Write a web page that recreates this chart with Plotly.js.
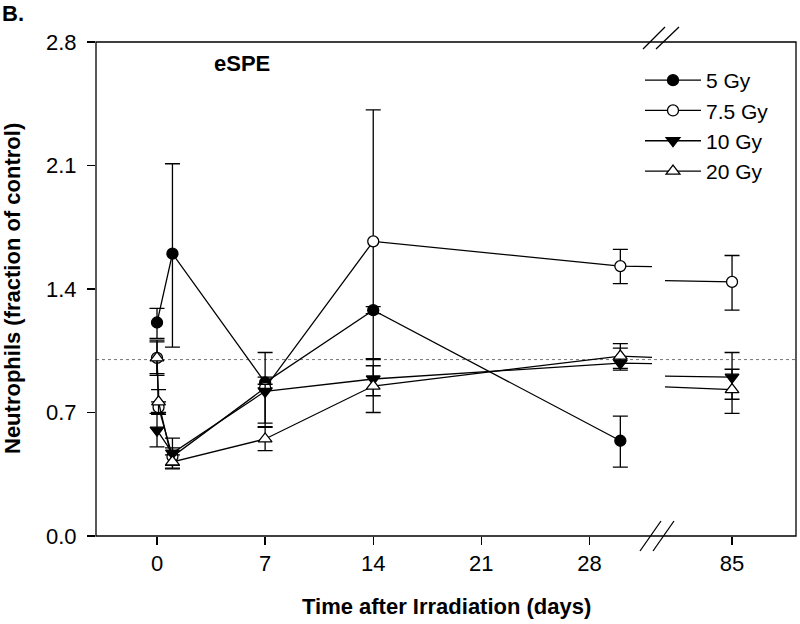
<!DOCTYPE html>
<html>
<head>
<meta charset="utf-8">
<script src="https://cdn.plot.ly/plotly-3.0.1.min.js"></script>
<style>html,body{margin:0;padding:0;background:#fff;}</style>
</head>
<body>
<div id="chart" style="width:800px;height:624px;"></div>
<script>
// ---- data ----
const seriesNames = ['5 Gy', '7.5 Gy', '10 Gy', '20 Gy'];

const days5   = [0, 1, 7, 14, 30];
const vals5   = [1.21, 1.60, 0.87, 1.28, 0.54];
const errUp5  = [0.08, 0.51, 0.03, 0.02, 0.14];
const errDn5  = [0.09, 0.53, 0.03, 0.02, 0.15];

const days75  = [0, 0.1, 1, 7, 14, 30, 85];
const vals75  = [1.01, 0.73, 0.45, 0.84, 1.67, 1.53, 1.44];
const errUp75 = [0.10, 0.03, 0.05, 0.20, 0.745, 0.095, 0.15];
const errDn75 = [0.10, 0.03, 0.05, 0.20, 0.665, 0.10, 0.16];

const days10  = [0, 1, 7, 14, 30, 85];
const vals10  = [0.60, 0.47, 0.82, 0.89, 0.98, 0.90];
const errUp10 = [0.095, 0.085, 0.04, 0.075, 0.085, 0.14];
const errDn10 = [0.095, 0.085, 0.20, 0.095, 0.04, 0.125];

const days20  = [0, 0.1, 1, 7, 14, 30, 85];
const vals20  = [1.01, 0.76, 0.42, 0.55, 0.85, 1.02, 0.83];
const errUp20 = [0.09, 0.07, 0.04, 0.066, 0.15, 0.07, 0.115];
const errDn20 = [0.09, 0.07, 0.04, 0.066, 0.15, 0.07, 0.135];

const xTickValsLeft  = [0, 7, 14, 21, 28];
const xTickValsRight = [85];
const yTickVals = [0, 0.7, 1.4, 2.1, 2.8];
const refLevel = 1.0;

// ---- styling ----
const FONT = 'Liberation Sans, Arial, Helvetica, sans-serif';
const LW = 1.3;
const styles = [
  {symbol:'circle', color:'black', size:11},
  {symbol:'circle', color:'white', size:11},
  {symbol:'triangle-down', color:'black', size:12},
  {symbol:'triangle-up', color:'white', size:12}
];
const dataSets = [
  [days5, vals5, errUp5, errDn5],
  [days75, vals75, errUp75, errDn75],
  [days10, vals10, errUp10, errDn10],
  [days20, vals20, errUp20, errDn20]
];

const traces = [];
['x', 'x2'].forEach(function(ax, ai){
  dataSets.forEach(function(ds, i){
    const st = styles[i];
    traces.push({
      type:'scatter', mode:'lines+markers',
      name: seriesNames[i],
      x: ds[0], y: ds[1],
      xaxis: ax, yaxis:'y',
      showlegend: ai === 0,
      legendgroup: seriesNames[i],
      line:{color:'black', width:LW},
      marker:{symbol:st.symbol, color:st.color, size:st.size, line:{color:'black', width:LW}},
      error_y:{type:'data', symmetric:false, array:ds[2], arrayminus:ds[3], color:'black', thickness:LW, width:7.5}
    });
  });
});

// pixel -> paper helpers for decorations
const L = 96, R = 796, T = 42, B = 536;
const px = v => (v - L) / (R - L);
const py = v => (B - v) / (B - T);

const axFont = {family:FONT, size:22, color:'black'};
const xCommon = {
  ticks:'outside', ticklen:8, tickwidth:LW, tickcolor:'black',
  showline:false, showgrid:false, zeroline:false,
  tickfont:axFont, anchor:'y', fixedrange:true
};

const layout = {
  width:800, height:624,
  margin:{l:L, r:800-R, t:T, b:624-B, pad:0},
  paper_bgcolor:'white', plot_bgcolor:'white',
  showlegend:true,
  legend:{x:px(640), y:py(60), xanchor:'left', yanchor:'top', bgcolor:'rgba(0,0,0,0)',
          font:{family:FONT, size:21, color:'black'}, itemwidth:56, tracegroupgap:0},
  xaxis: Object.assign({}, xCommon, {domain:[0, px(652)], range:[-3.95, 32.05], tickvals:xTickValsLeft}),
  xaxis2: Object.assign({}, xCommon, {domain:[px(665), 1], range:[80.66, 89.14], tickvals:xTickValsRight}),
  yaxis:{range:[0, 2.8], tickvals:yTickVals, tickformat:'.1f', ticks:'outside', ticklen:8, tickwidth:LW,
         tickcolor:'black', showline:false, showgrid:false, zeroline:false, tickfont:axFont, fixedrange:true,
         ticklabelstandoff:6},
  shapes:[
    {type:'line', xref:'paper', yref:'y', x0:0, x1:1, y0:refLevel, y1:refLevel, layer:'below',
     line:{color:'#777', width:1, dash:'dot'}},
    {type:'rect', xref:'paper', yref:'paper', x0:0, x1:1, y0:0, y1:1, layer:'above',
     line:{color:'black', width:LW}},
    {type:'line', xref:'paper', yref:'paper', x0:px(643), y0:py(49), x1:px(665), y1:py(27), line:{color:'black', width:LW}},
    {type:'line', xref:'paper', yref:'paper', x0:px(656), y0:py(49), x1:px(679), y1:py(27), line:{color:'black', width:LW}},
    {type:'line', xref:'paper', yref:'paper', x0:px(640), y0:py(551), x1:px(661), y1:py(521), line:{color:'black', width:LW}},
    {type:'line', xref:'paper', yref:'paper', x0:px(653), y0:py(551), x1:px(674), y1:py(521), line:{color:'black', width:LW}}
  ],
  annotations:[
    {text:'<b>Time after Irradiation (days)</b>', xref:'paper', yref:'paper', x:0.5, y:0, yshift:-70,
     xanchor:'center', yanchor:'middle', showarrow:false, font:{family:FONT, size:22, color:'black'}},
    {text:'<b>Neutrophils (fraction of control)</b>', xref:'paper', yref:'paper', x:0, y:0.5, xshift:-84,
     xanchor:'center', yanchor:'middle', textangle:-90, showarrow:false, font:{family:FONT, size:22, color:'black'}},
    {text:'<b>eSPE</b>', xref:'paper', yref:'paper', x:px(242), y:py(63),
     xanchor:'center', yanchor:'middle', showarrow:false, font:{family:FONT, size:22, color:'black'}},
    {text:'<b>B.</b>', xref:'paper', yref:'paper', x:px(0), y:py(13),
     xanchor:'left', yanchor:'middle', showarrow:false, font:{family:FONT, size:22, color:'black'}}
  ]
};

Plotly.newPlot('chart', traces, layout, {displayModeBar:false, staticPlot:true});
</script>
</body>
</html>
